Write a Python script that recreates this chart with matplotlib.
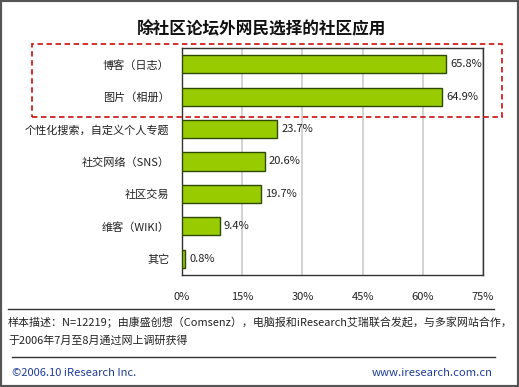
import matplotlib
matplotlib.use("Agg")
import matplotlib.pyplot as plt
from matplotlib.patches import Rectangle
from matplotlib.lines import Line2D

plt.rcParams['font.family'] = ['Noto Sans CJK SC', 'DejaVu Sans']

categories = ["博客（日志）", "图片（相册）", "个性化搜索，自定义个人专题", "社交网络（SNS）",
              "社区交易", "维客（WIKI）", "其它"]
values = [65.8, 64.9, 23.7, 20.6, 19.7, 9.4, 0.8]
xticks = [0, 15, 30, 45, 60, 75]
title = "除社区论坛外网民选择的社区应用"
note1 = "样本描述：N=12219；由康盛创想（Comsenz），电脑报和iResearch艾瑞联合发起，与多家网站合作，"
note2 = "于2006年7月至8月通过网上调研获得"
footer_left = "©2006.10 iResearch Inc."
footer_right = "www.iresearch.com.cn"

W, H = 519, 387
fig = plt.figure(figsize=(W/100, H/100), dpi=100)
fig.patch.set_facecolor('white')

def fx(px): return px / W
def fy(py): return 1 - py / H

ax = fig.add_axes([fx(182), fy(275), fx(483) - fx(182), fy(48) - fy(275)])
y = list(range(len(categories)))
ax.barh(y, values, height=0.56, color='#99CC00', edgecolor='#2E4A00', linewidth=1.0, zorder=3)
ax.set_xlim(0, 75)
ax.set_ylim(len(categories) - 0.5, -0.5)
ax.set_yticks(y)
ax.set_yticklabels(categories, fontsize=8, color='#222222')
ax.set_xticks(xticks)
ax.set_xticklabels([f"{t}%" for t in xticks], fontsize=8, color='#222222')
ax.tick_params(axis='y', length=0, pad=9)
ax.tick_params(axis='x', length=0, pad=12)
ax.grid(axis='x', color='#CCCCCC', linewidth=1.2, zorder=0)
for s in ax.spines.values():
    s.set_color('#333333')
    s.set_linewidth(1.0)
for yi, v in zip(y, values):
    ax.text(v + 1.0, yi, f"{v}%", va='center', ha='left', fontsize=8, color='#222222', zorder=4)

fig.text(fx(262), fy(29), title, ha='center', va='center', fontsize=12, fontweight='bold', color='#111111')

# red dashed box
fig.patches.append(Rectangle((fx(32), fy(117)), fx(502) - fx(32), fy(44) - fy(117),
                             transform=fig.transFigure, fill=False, edgecolor='#D02020',
                             linestyle=(0, (3, 2)), linewidth=1.3, zorder=10))

fig.lines.append(Line2D([fx(8), fx(494)], [fy(309), fy(309)], transform=fig.transFigure,
                        color='#333333', linewidth=1.0))
fig.lines.append(Line2D([fx(12), fx(495)], [fy(357), fy(357)], transform=fig.transFigure,
                        color='#333333', linewidth=1.0))

fig.text(fx(8), fy(322), note1, ha='left', va='center', fontsize=7.9, color='#222222')
fig.text(fx(8), fy(341), note2, ha='left', va='center', fontsize=7.9, color='#222222')
fig.text(fx(12), fy(373), footer_left, ha='left', va='center', fontsize=8, color='#1F3C99')
fig.text(fx(493), fy(373), footer_right, ha='right', va='center', fontsize=8.1, color='#1F3C99')

# outer border
fig.patches.append(Rectangle((0, 0), 1, 1, transform=fig.transFigure, fill=False,
                             edgecolor='#555555', linewidth=3, zorder=20))

fig.savefig("out.png", dpi=100, facecolor='white')
